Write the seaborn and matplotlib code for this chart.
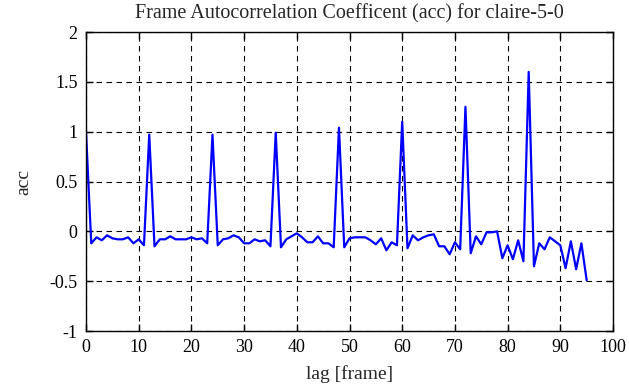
import numpy as np
import pandas as pd
import seaborn as sns
import matplotlib.pyplot as plt

# lag values 0..95 and autocorrelation
lags = list(range(96))
acc = [1.0, -0.12, -0.06, -0.09, -0.04, -0.07, -0.08, -0.08, -0.06, -0.12,
       -0.08, -0.14, 0.97, -0.15, -0.08, -0.08, -0.05, -0.08, -0.08, -0.08,
       -0.06, -0.08, -0.07, -0.12, 0.97, -0.14, -0.08, -0.07, -0.04, -0.06,
       -0.12, -0.12, -0.08, -0.10, -0.09, -0.15, 0.99, -0.16, -0.08, -0.05,
       -0.02, -0.06, -0.11, -0.11, -0.05, -0.12, -0.12, -0.16, 1.04, -0.16,
       -0.07, -0.06, -0.06, -0.06, -0.09, -0.13, -0.07, -0.19, -0.11, -0.14,
       1.10, -0.17, -0.04, -0.09, -0.06, -0.04, -0.03, -0.15, -0.15, -0.23,
       -0.11, -0.18, 1.25, -0.22, -0.05, -0.13, -0.01, -0.01, 0.0, -0.27,
       -0.14, -0.28, -0.09, -0.30, 1.60, -0.35, -0.12, -0.18, -0.06, -0.10,
       -0.14, -0.37, -0.10, -0.38, -0.12, -0.49]

xticks = list(range(0, 101, 10))
yticks = [-1, -0.5, 0, 0.5, 1, 1.5, 2]
ytick_labels = ["-1", "-0.5", "0", "0.5", "1", "1.5", "2"]

df = pd.DataFrame({"lag": lags, "acc": acc})

sns.set_style("ticks")
plt.rcParams['font.family'] = ['Liberation Serif', 'DejaVu Serif']
plt.rcParams['font.size'] = 13

fig = plt.figure(figsize=(6.29, 3.87), dpi=100)
ax = fig.add_axes([0.1367, 0.1447, 0.9746 - 0.1367, 0.9173 - 0.1447])

sns.lineplot(data=df, x="lag", y="acc", color="#0000ff", linewidth=1.6, ax=ax)

ax.set_xlim(0, 100)
ax.set_ylim(-1, 2)
ax.set_xticks(xticks)
ax.set_yticks(yticks)
ax.set_yticklabels(ytick_labels)
ax.grid(True, color="black", linestyle=(0, (5, 4)), linewidth=0.8)
ax.tick_params(direction="in", top=True, right=True, length=5, width=1,
               labelsize=13, colors="black", pad=6)
for s in ax.spines.values():
    s.set_visible(True)
    s.set_color("black")
    s.set_linewidth(1)

ax.set_title("Frame Autocorrelation Coefficent (acc) for claire-5-0", fontsize=14.5, pad=10)
ax.set_xlabel("lag [frame]", fontsize=14, labelpad=6)
ax.set_ylabel("acc", fontsize=14, labelpad=12)

fig.savefig("out.png", dpi=100)
